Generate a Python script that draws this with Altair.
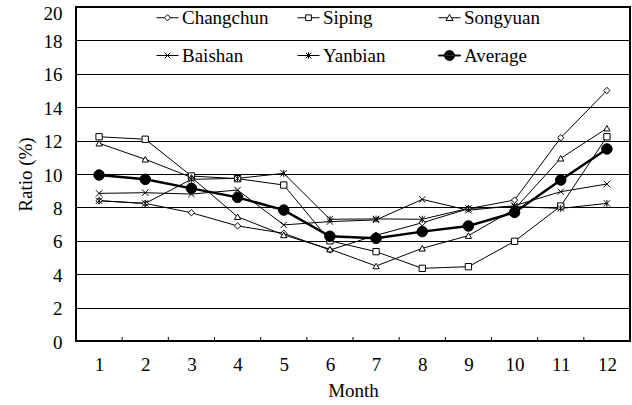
import altair as alt
import pandas as pd

# ---- data ----
months = list(range(1, 13))
series = ["Changchun", "Siping", "Songyuan", "Baishan", "Yanbian", "Average"]
changchun = [8.40, 8.24, 7.68, 6.89, 6.45, 5.45, 6.33, 7.08, 7.92, 8.44, 12.17, 15.00]
siping    = [12.23, 12.08, 9.88, 9.72, 9.34, 6.00, 5.35, 4.35, 4.45, 5.97, 8.08, 12.23]
songyuan  = [11.84, 10.88, 9.80, 7.44, 6.35, 5.50, 4.49, 5.55, 6.31, 7.90, 10.94, 12.74]
baishan   = [8.84, 8.88, 8.80, 9.04, 6.95, 7.15, 7.25, 8.48, 7.83, 8.10, 8.94, 9.40]
yanbian   = [8.40, 8.24, 9.68, 9.74, 10.04, 7.29, 7.31, 7.29, 7.94, 8.05, 7.94, 8.24]
average   = [9.94, 9.68, 9.14, 8.60, 7.84, 6.27, 6.15, 6.55, 6.89, 7.70, 9.64, 11.50]
y_ticks = list(range(0, 21, 2))

values = [changchun, siping, songyuan, baishan, yanbian, average]
rows = []
for name, vals in zip(series, values):
    for m, v in zip(months, vals):
        rows.append({"month": m, "ratio": v, "series": name})
df = pd.DataFrame(rows)
tick_df = pd.DataFrame({"month": [m + 0.5 for m in months[:-1]]})

W, H = 554, 334
FONT = "Liberation Serif"

XPATH = "M-1,-1L1,1M-1,1L1,-1"
ASTPATH = "M-1,-1L1,1M-1,1L1,-1M0,-1.1L0,1.1"
point_shapes = ["diamond", "square", "triangle-up", XPATH, ASTPATH, "circle"]

legend_paths = [
    "M-1,0H-0.28M0.28,0H1M0,-0.28L0.28,0L0,0.28L-0.28,0Z",
    "M-1,0H-0.26M0.26,0H1M-0.26,-0.26H0.26V0.26H-0.26Z",
    "M-1,0H-0.17M0.17,0H1M0,-0.3L0.32,0.25H-0.32Z",
    "M-1,0H1M-0.25,-0.25L0.25,0.25M-0.25,0.25L0.25,-0.25",
    "M-1,0H1M-0.25,-0.25L0.25,0.25M-0.25,0.25L0.25,-0.25M0,-0.3V0.3",
    "M-1,-0.04H1V0.04H-1ZM-0.45,0A0.45,0.45 0 1,0 0.45,0A0.45,0.45 0 1,0 -0.45,0Z",
]

xscale = alt.Scale(domain=[0.5, 12.5], nice=False, zero=False)
yscale = alt.Scale(domain=[0, 20], nice=False)

x = alt.X("month:Q", scale=xscale,
          axis=alt.Axis(values=months, title="Month", grid=False, ticks=False, tickSize=0,
                        domain=False, labelPadding=14, titlePadding=7, format="d"))
y = alt.Y("ratio:Q", scale=yscale,
          axis=alt.Axis(values=y_ticks, title="Ratio (%)", grid=True, gridColor="black",
                        gridWidth=1, gridOpacity=1, ticks=False, tickSize=0, domain=False,
                        labelPadding=14, titlePadding=8,
                        labelOffset={"condition": {"test": "datum.value == 20", "value": 6},
                                     "value": 1}))

base = alt.Chart(df)

lines_others = base.transform_filter("datum.series != 'Average'").mark_line(
    color="black", strokeWidth=1).encode(x=x, y=y, detail="series:N", order="month:Q")
line_avg = base.transform_filter("datum.series == 'Average'").mark_line(
    color="black", strokeWidth=2.5).encode(x=x, y=y, order="month:Q")

ticks = alt.Chart(tick_df).mark_rule(color="black", strokeWidth=1).encode(
    x=x, y=alt.value(H), y2=alt.value(H - 4))

points = base.mark_point(stroke="black", strokeWidth=1, opacity=1).encode(
    x=x, y=y,
    shape=alt.Shape("series:N", scale=alt.Scale(domain=series, range=point_shapes), legend=None),
    fill=alt.condition(alt.datum.series == "Average", alt.value("black"), alt.value("white")),
    size=alt.condition(alt.datum.series == "Average", alt.value(110), alt.value(40)),
)

leg = alt.Legend(title=None, orient="none", legendX=80, legendY=-1, columns=3,
                 direction="horizontal",
                 gridAlign="all", columnPadding=26, rowPadding=16, symbolSize=484,
                 symbolStrokeWidth=1, symbolStrokeColor="black", symbolOpacity=1,
                 labelFont=FONT, labelFontSize=19, labelColor="black", labelOffset=3,
                 padding=0, labelLimit=0)

legend_layer = base.transform_filter("datum.ratio < 0").mark_point(
    stroke="black", strokeWidth=1, opacity=1).encode(
    x=x, y=y,
    shape=alt.Shape("series:N", scale=alt.Scale(domain=series, range=legend_paths), legend=leg),
    fill=alt.Fill("series:N", scale=alt.Scale(domain=series, range=["white"] * 5 + ["black"]), legend=leg),
    stroke=alt.Stroke("series:N", scale=alt.Scale(domain=series, range=["black"] * 6), legend=leg),
)

chart = alt.layer(lines_others, line_avg, ticks, points, legend_layer).resolve_scale(
    shape="independent", fill="independent", stroke="independent"
).properties(
    width=W, height=H,
    background="white",
    autosize=alt.AutoSizeParams(type="none"),
    padding={"left": 76, "top": 7, "right": 2, "bottom": 64},
).configure_view(
    stroke="black", strokeWidth=2
).configure_axis(
    labelFont=FONT, labelFontSize=19, labelColor="black",
    titleFont=FONT, titleFontSize=19, titleFontWeight="normal", titleColor="black",
)

chart.save("out.html", embed_options={"renderer": "svg", "actions": False})
